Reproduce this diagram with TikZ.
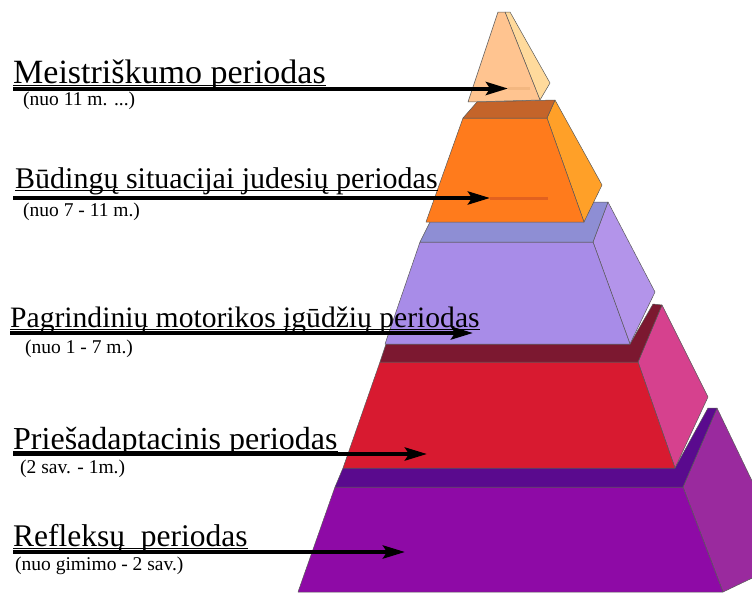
\documentclass[tikz,border=0pt]{standalone}
\usepackage{fontspec}
\setmainfont{Liberation Serif}
\usetikzlibrary{arrows.meta}

\definecolor{peachF}{HTML}{FFC490}
\definecolor{peachS}{HTML}{FFDA9C}
\definecolor{orangeF}{HTML}{FF7B1C}
\definecolor{orangeS}{HTML}{FFA028}
\definecolor{orangeT}{HTML}{C4642A}
\definecolor{lilacF}{HTML}{A88CE8}
\definecolor{lilacS}{HTML}{B394EA}
\definecolor{lilacT}{HTML}{8E8ED4}
\definecolor{redF}{HTML}{D81A30}
\definecolor{redS}{HTML}{D6418E}
\definecolor{redT}{HTML}{7C1830}
\definecolor{violetF}{HTML}{8E0AA6}
\definecolor{violetS}{HTML}{9A2A9E}
\definecolor{violetT}{HTML}{5A0A8E}

\begin{document}
\begin{tikzpicture}[x=1pt, y=-1pt, line join=round, >={Stealth[length=22pt, width=13pt, inset=4pt]},
    face/.style={draw=black!65, line width=0.5pt},
    period/.style={anchor=base west, inner sep=0pt, font=\fontsize{#1}{#1}\selectfont},
    period/.default=31,
    span/.style={anchor=base west, inner sep=0pt, font=\fontsize{19.5}{19.5}\selectfont},
    pointer/.style={->, line width=4pt},
    trail/.style={line width=3pt, opacity=0.6},
    underl/.style={line width=0.9pt}]
    \useasboundingbox (0,0) rectangle (752,592);

    \begin{scope}
    \clip (0,0) rectangle (752,592);
    \filldraw[face, fill=violetS] (683,487) -- (717,408) -- (790,560) -- (723,592) -- cycle;
    \filldraw[face, fill=violetF] (335,487) -- (683,487) -- (723,592) -- (298,592) -- cycle;
    \filldraw[face, fill=violetT] (335,487) -- (683,487) -- (717,408) -- (708,408) -- (675,468) -- (343,468) -- cycle;

    \filldraw[face, fill=redS] (638,362) -- (662,305) -- (708,397) -- (675,468) -- cycle;
    \filldraw[face, fill=redF] (343,468) -- (675,468) -- (638,362) -- (380,362) -- cycle;
    \filldraw[face, fill=redT] (380,362) -- (638,362) -- (662,305) -- (653,304) -- (630,344) -- (386,344) -- cycle;

    \filldraw[face, fill=lilacS] (593,242) -- (608,202) -- (655,292) -- (630,344) -- cycle;
    \filldraw[face, fill=lilacF] (385,344) -- (630,344) -- (593,242) -- (420,242) -- cycle;
    \filldraw[face, fill=lilacT] (420,242) -- (593,242) -- (608,202) -- (440,202) -- cycle;

    \filldraw[face, fill=orangeS] (547,118) -- (555,100) -- (602,185) -- (584,222) -- cycle;
    \filldraw[face, fill=orangeF] (426,222) -- (584,222) -- (547,118) -- (463,118) -- cycle;
    \filldraw[face, fill=orangeT] (463,118) -- (547,118) -- (555,100) -- (477,102) -- cycle;

    \filldraw[face, fill=peachS] (505,12) -- (510,12) -- (550,83) -- (540,100) -- cycle;
    \filldraw[face, fill=peachF] (498,12) -- (505,12) -- (540,100) -- (468,102) -- cycle;
    \end{scope}

    \node[period=34] (h1) at (13,83) {Meistriškumo periodas};
    \node[span] (d1) at (23,105) {(nuo 11 m. ...)};
    \node[period=30] (h2) at (15,188) {Būdingų situacijai judesių periodas};
    \node[span] (d2) at (23,216) {(nuo 7 - 11 m.)};
    \node[period=29.6] (h3) at (10,327) {Pagrindinių motorikos įgūdžių periodas};
    \node[span] (d3) at (25,353) {(nuo 1 - 7 m.)};
    \node[period=32] (h4) at (13,449) {Priešadaptacinis periodas};
    \node[span] (d4) at (20,473) {(2 sav. - 1m.)};
    \node[period=31.5] (h5) at (13,546) {Refleksų\ \ periodas};
    \node[span] (d5) at (15,570) {(nuo gimimo - 2 sav.)};

    \foreach \i in {1,...,5}
        \draw[underl] ([yshift=-2.5pt]h\i.base west) -- ([yshift=-2.5pt]h\i.base east);

    \coordinate (s1) at (13,88.5);
    \coordinate (e1) at (508,88.5);
    \coordinate (f1) at (530,88.5);
    \coordinate (s2) at (13,198);
    \coordinate (e2) at (490,198);
    \coordinate (f2) at (548,198);
    \coordinate (s3) at (10,333);
    \coordinate (e3) at (473,333);
    \coordinate (s4) at (13,454);
    \coordinate (e4) at (427,454);
    \coordinate (s5) at (13,552);
    \coordinate (e5) at (405,552);

    \draw[trail, draw=peachF!70!brown] (e1) -- (f1);
    \draw[trail, draw=orangeT!80!red] (e2) -- (f2);
    \foreach \i in {1,...,5}
        \draw[pointer] (s\i) -- (e\i);
\end{tikzpicture}
\end{document}
